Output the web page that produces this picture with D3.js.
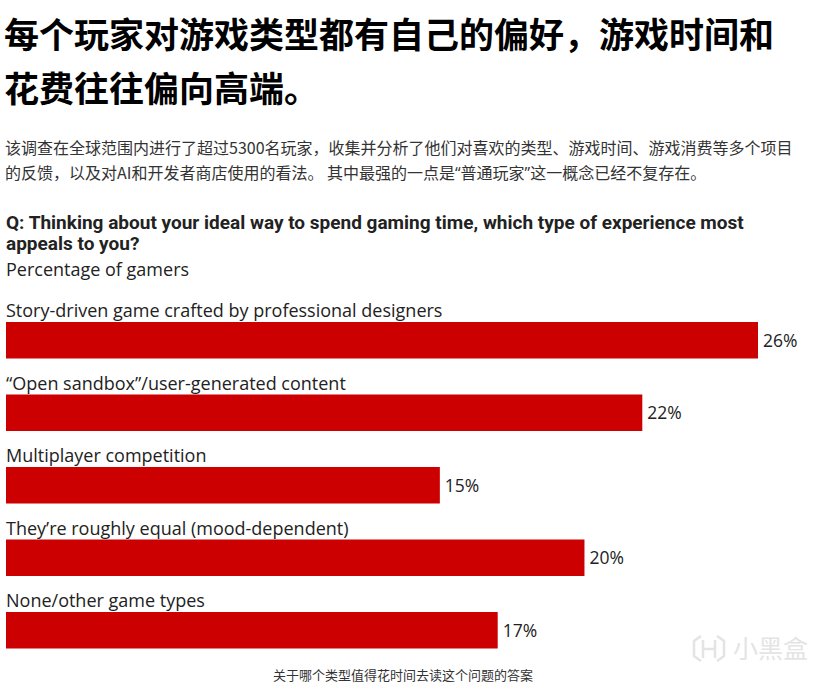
<!DOCTYPE html>
<html>
<head>
<meta charset="utf-8">
<script src="https://cdn.jsdelivr.net/npm/d3@7"></script>
<style>
  body { margin: 0; background: #fff; }
  svg { display: block; }
</style>
</head>
<body>
<svg width="815" height="683"></svg>
<script>
// chart data
const categories = [
  "Story-driven game crafted by professional designers",
  "\u201cOpen sandbox\u201d/user-generated content",
  "Multiplayer competition",
  "They\u2019re roughly equal (mood-dependent)",
  "None/other game types"
];
const shares = [26, 22, 15, 20, 17];

const titleLines = [
  "每个玩家对游戏类型都有自己的偏好，游戏时间和",
  "花费往往偏向高端。"
];
const introLines = [
  "该调查在全球范围内进行了超过5300名玩家，收集并分析了他们对喜欢的类型、游戏时间、游戏消费等多个项目",
  "的反馈，以及对AI和开发者商店使用的看法。 其中最强的一点是“普通玩家”这一概念已经不复存在。"
];
const questionLines = [
  "Q: Thinking about your ideal way to spend gaming time, which type of experience most",
  "appeals to you?"
];
const subtitle = "Percentage of gamers";
const caption = "关于哪个类型值得花时间去读这个问题的答案";

const svg = d3.select("svg"),
  width = +svg.attr("width"),
  height = +svg.attr("height");

const cjk = "'Noto Sans CJK SC', 'Noto Sans', sans-serif";
const latin = "'Open Sans', 'Noto Sans', sans-serif";

// headline
svg.append("g")
  .selectAll("text")
  .data(titleLines)
  .join("text")
    .attr("x", 4)
    .attr("y", (d, i) => 48 + i * 54)
    .style("font-family", cjk)
    .style("font-weight", 700)
    .style("font-size", "35px")
    .style("fill", "#000")
    .text(d => d);

// intro paragraph (curly quotes drawn narrow, as in the source)
const intro = svg.append("g")
  .selectAll("text")
  .data(introLines)
  .join("text")
    .attr("x", 5)
    .attr("y", (d, i) => 154 + i * 25)
    .style("font-family", cjk)
    .style("font-size", "16px")
    .style("fill", "#333");

intro.selectAll("tspan")
  .data(d => d.split(/([“”])/).filter(s => s.length))
  .join("tspan")
    .style("font-family", s => /[“”]/.test(s) ? latin : null)
    .text(s => s);

// question
svg.append("g")
  .selectAll("text")
  .data(questionLines)
  .join("text")
    .attr("x", 6)
    .attr("y", (d, i) => 229 + i * 21)
    .style("font-family", "Roboto, 'Liberation Sans', sans-serif")
    .style("font-weight", 700)
    .style("font-size", "19px")
    .style("fill", "#222")
    .text(d => d);

svg.append("text")
  .attr("x", 6)
  .attr("y", 276)
  .style("font-family", latin)
  .style("font-size", "18px")
  .style("fill", "#222")
  .text(subtitle);

// scales
const x = d3.scaleLinear()
  .domain([0, 26])
  .range([6, 758]);

const y = d3.scaleBand()
  .domain(categories)
  .range([322, 648.5])
  .paddingInner(0.4966)
  .paddingOuter(0)
  .align(0);

const rows = svg.append("g")
  .selectAll("g")
  .data(categories)
  .join("g");

rows.append("rect")
  .attr("x", x(0))
  .attr("y", d => y(d))
  .attr("width", (d, i) => x(shares[i]) - x(0))
  .attr("height", y.bandwidth())
  .style("fill", "#cc0000");

rows.append("text")
  .attr("x", 6)
  .attr("y", d => y(d) - 5)
  .style("font-family", latin)
  .style("font-size", "18px")
  .style("fill", "#222")
  .text(d => d);

rows.append("text")
  .attr("x", (d, i) => x(shares[i]) + 5)
  .attr("y", d => y(d) + y.bandwidth() / 2)
  .attr("dy", "0.36em")
  .style("font-family", latin)
  .style("font-size", "17.5px")
  .style("fill", "#222")
  .text((d, i) => shares[i] + "%");

// caption
svg.append("text")
  .attr("x", 403)
  .attr("y", 680)
  .attr("text-anchor", "middle")
  .style("font-family", cjk)
  .style("font-size", "13px")
  .style("fill", "#333")
  .text(caption);

// watermark
const mark = svg.append("g")
  .attr("transform", "translate(694,634)")
  .style("fill", "none")
  .style("stroke", "#e4e4e4")
  .style("stroke-width", 2.5);
mark.append("path")
  .attr("d", "M7,2 L0,7 L0,22 L7,27 M23,2 L30,7 L30,22 L23,27 M9,6 L9,24 M21,6 L21,24 M9,15 L21,15");
svg.append("text")
  .attr("x", 733)
  .attr("y", 658)
  .style("font-family", cjk)
  .style("font-size", "25px")
  .style("fill", "#e4e4e4")
  .text("小黑盒");
</script>
</body>
</html>
